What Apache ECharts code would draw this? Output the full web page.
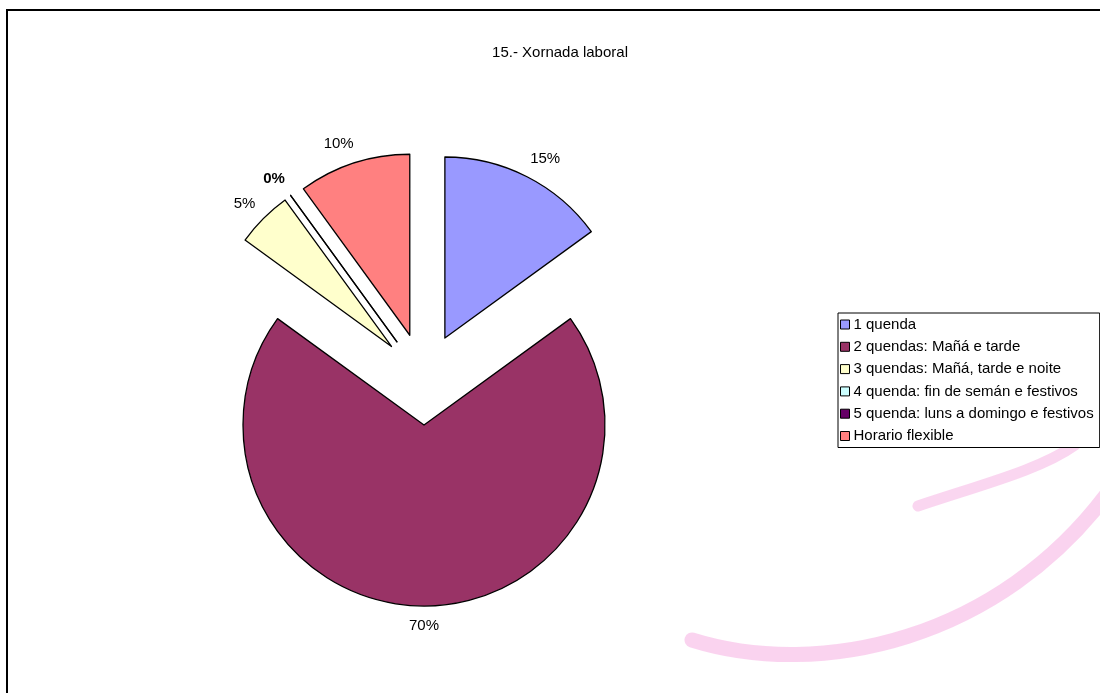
<!DOCTYPE html>
<html>
<head>
<meta charset="utf-8">
<script src="https://cdn.jsdelivr.net/npm/echarts@6/dist/echarts.min.js"></script>
<style>html,body{margin:0;padding:0;background:#fff}#c{width:1100px;height:693px}</style>
</head>
<body>
<div id="c"></div>
<script>
const titleText = '15.- Xornada laboral';
const categories = [
  '1 quenda',
  '2 quendas: Mañá e tarde',
  '3 quendas: Mañá, tarde e noite',
  '4 quenda: fin de semán e festivos',
  '5 quenda: luns a domingo e festivos',
  'Horario flexible'
];
const values = [15, 70, 5, 0, 0, 10];
const colors = ['#9999FF', '#993366', '#FFFFCC', '#CCFFFF', '#660066', '#FF8080'];

const chart = echarts.init(document.getElementById('c'), null, {renderer: 'canvas'});
const FONT = 'Liberation Sans, Arial, sans-serif';

const data = categories.map((name, i) => {
  const d = {
    name: name,
    value: values[i],
    selected: true,
    itemStyle: {color: colors[i]}
  };
  if (values[i] === 0) d.label = {fontWeight: 'bold'};
  if (i === 1) d.label = {distanceToLabelLine: -15};
  return d;
});

chart.setOption({
  animation: false,
  backgroundColor: '#fff',
  color: colors,
  title: {
    text: titleText,
    left: 560,
    textAlign: 'center',
    top: 45,
    padding: 0,
    textStyle: {fontSize: 15, fontWeight: 'normal', color: '#000', fontFamily: FONT}
  },
  legend: {
    orient: 'vertical',
    left: 838,
    top: 313,
    padding: [4, 6, 4, 2],
    itemGap: 7.3,
    itemWidth: 9,
    itemHeight: 9,
    icon: 'rect',
    borderColor: '#000',
    borderWidth: 1,
    backgroundColor: '#fff',
    selectedMode: false,
    itemStyle: {borderColor: '#000', borderWidth: 1},
    textStyle: {fontSize: 15, color: '#000', fontFamily: FONT, padding: [0, 0, 0, -1]},
    data: categories
  },
  graphic: [
    {type: 'rect', silent: true, z: -10,
     shape: {x: 7, y: 10, width: 1200, height: 800},
     style: {fill: null, stroke: '#000', lineWidth: 2}},
    {type: 'bezierCurve', silent: true, z: -20,
     shape: {x1: 692, y1: 640, cpx1: 820, cpy1: 680, cpx2: 1000, cpy2: 640, x2: 1110, y2: 490},
     style: {stroke: 'rgba(248,196,234,0.75)', lineWidth: 15, lineCap: 'round', fill: null}},
    {type: 'bezierCurve', silent: true, z: -20,
     shape: {x1: 918, y1: 506, cpx1: 980, cpy1: 485, cpx2: 1040, cpy2: 470, x2: 1075, y2: 445},
     style: {stroke: 'rgba(248,196,234,0.7)', lineWidth: 11, lineCap: 'round', fill: null}}
  ],
  series: [{
    type: 'pie',
    center: [424, 379],
    radius: 181,
    startAngle: 90,
    clockwise: true,
    selectedMode: 'multiple',
    selectedOffset: 46,
    avoidLabelOverlap: false,
    percentPrecision: 0,
    emphasis: {disabled: true},
    itemStyle: {borderColor: '#000', borderWidth: 1.3},
    select: {itemStyle: {borderColor: '#000', borderWidth: 1.3}},
    label: {
      show: true,
      position: 'outside',
      formatter: '{d}%',
      fontSize: 15,
      color: '#000',
      fontFamily: FONT,
      distanceToLabelLine: -6
    },
    labelLine: {show: false, length: 20, length2: 0},
    data: data
  }]
});
</script>
</body>
</html>
